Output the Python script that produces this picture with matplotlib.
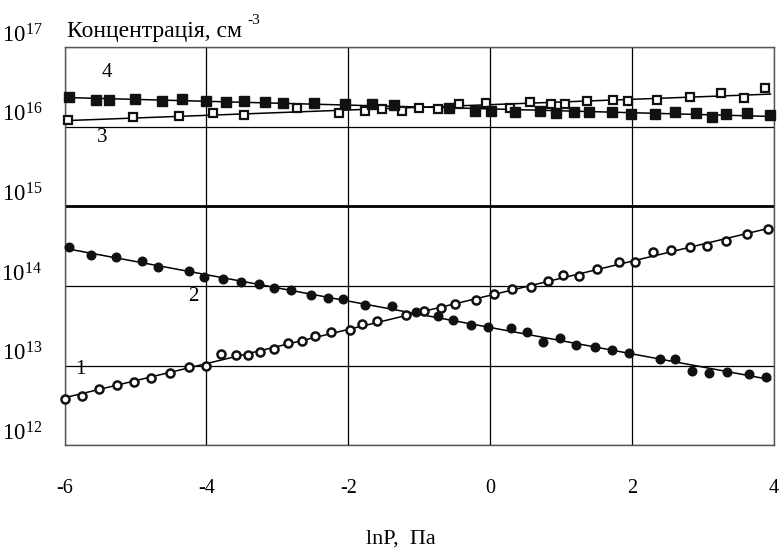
import numpy as np
import matplotlib
matplotlib.use("Agg")
import matplotlib.pyplot as plt

plt.rcParams['font.family'] = ['Liberation Serif', 'DejaVu Serif']
plt.rcParams['mathtext.fontset'] = 'custom'
plt.rcParams['mathtext.rm'] = 'Liberation Serif'
plt.rcParams['mathtext.it'] = 'Liberation Serif'

# curve 1 - open circles
x1 = [-6.00, -5.76, -5.52, -5.26, -5.02, -4.78, -4.52, -4.25, -4.01, -3.79, -3.58,
      -3.41, -3.24, -3.05, -2.85, -2.65, -2.47, -2.25, -1.98, -1.81, -1.59, -1.19,
      -0.94, -0.69, -0.50, -0.20, 0.05, 0.31, 0.57, 0.81, 1.02, 1.25, 1.51, 1.81,
      2.04, 2.30, 2.55, 2.82, 3.05, 3.33, 3.62, 3.92]
n1 = [3.83e12, 4.22e12, 5.07e12, 5.78e12, 6.25e12, 7.01e12, 8.18e12, 9.55e12, 1.00e13,
      1.39e13, 1.36e13, 1.36e13, 1.50e13, 1.62e13, 1.95e13, 2.02e13, 2.38e13, 2.62e13,
      2.83e13, 3.30e13, 3.64e13, 4.37e13, 4.86e13, 5.25e13, 5.89e13, 6.73e13, 7.94e13,
      9.08e13, 9.70e13, 1.17e14, 1.39e14, 1.33e14, 1.62e14, 1.98e14, 2.02e14, 2.67e14,
      2.85e14, 3.05e14, 3.18e14, 3.64e14, 4.53e14, 5.14e14]

# curve 2 - filled circles
x2 = [-5.93, -5.62, -5.28, -4.91, -4.68, -4.25, -4.03, -3.77, -3.51, -3.26, -3.05,
      -2.81, -2.53, -2.28, -2.08, -1.76, -1.39, -1.05, -0.74, -0.53, -0.27, -0.03,
      0.29, 0.52, 0.75, 0.99, 1.21, 1.47, 1.71, 1.95, 2.39, 2.61, 2.85, 3.09, 3.34,
      3.65, 3.88]
n2 = [3.05e14, 2.45e14, 2.29e14, 2.06e14, 1.73e14, 1.54e14, 1.30e14, 1.22e14, 1.11e14,
      1.07e14, 9.53e13, 8.99e13, 7.64e13, 7.01e13, 6.93e13, 5.83e13, 5.66e13, 4.68e13,
      4.25e13, 3.78e13, 3.27e13, 3.06e13, 3.00e13, 2.67e13, 1.99e13, 2.23e13, 1.84e13,
      1.72e13, 1.57e13, 1.46e13, 1.23e13, 1.23e13, 8.59e12, 8.18e12, 8.43e12, 7.82e12,
      7.16e12]

# curve 3 - open squares
x3 = [-5.95, -5.03, -4.39, -3.90, -3.47, -2.72, -2.13, -1.76, -1.52, -1.24, -1.01,
      -0.73, -0.44, -0.06, 0.28, 0.56, 0.85, 1.06, 1.37, 1.73, 1.94, 2.35, 2.82, 3.25,
      3.58, 3.87]
n3 = [1.23e16, 1.33e16, 1.36e16, 1.49e16, 1.42e16, 1.74e16, 1.47e16, 1.58e16, 1.66e16,
      1.56e16, 1.74e16, 1.69e16, 1.93e16, 1.97e16, 1.74e16, 2.03e16, 1.93e16, 1.93e16,
      2.11e16, 2.17e16, 2.11e16, 2.17e16, 2.39e16, 2.63e16, 2.30e16, 3.10e16]

# curve 4 - filled squares
x4 = [-5.94, -5.56, -5.37, -5.00, -4.62, -4.34, -4.01, -3.72, -3.47, -3.18, -2.92,
      -2.48, -2.04, -1.66, -1.35, -0.58, -0.21, 0.01, 0.35, 0.70, 0.93, 1.18, 1.39,
      1.71, 1.99, 2.32, 2.61, 2.90, 3.13, 3.33, 3.62, 3.95]
n4 = [2.37e16, 2.19e16, 2.15e16, 2.21e16, 2.09e16, 2.25e16, 2.09e16, 2.05e16, 2.11e16,
      2.05e16, 1.99e16, 1.99e16, 1.90e16, 1.95e16, 1.86e16, 1.72e16, 1.58e16, 1.58e16,
      1.51e16, 1.58e16, 1.49e16, 1.51e16, 1.52e16, 1.52e16, 1.44e16, 1.45e16, 1.51e16,
      1.49e16, 1.33e16, 1.44e16, 1.49e16, 1.41e16]

x_ticks = [-6, -4, -2, 0, 2, 4]
y_ticks = [1e12, 1e13, 1e14, 1e15, 1e16, 1e17]
y_tick_labels = ['$10^{12}$', '$10^{13}$', '$10^{14}$', '$10^{15}$', '$10^{16}$', '$10^{17}$']
curve_names = ['1', '2', '3', '4']
name_x = [-5.77, -4.18, -5.47, -5.40]
name_y = [8.9e12, 7.3e13, 7.4e15, 4.8e16]

fig = plt.figure(figsize=(7.79, 5.51), dpi=100)
ax = fig.add_axes([0.0828, 0.1915, 0.9108, 0.7232])
ax.set_yscale('log')
ax.set_xlim(-6, 4)
ax.set_ylim(1e12, 1e17)
ax.set_xticks(x_ticks)
ax.set_xticklabels([str(t) for t in x_ticks])
ax.set_yticks(y_ticks)
ax.set_yticklabels(y_tick_labels)
ax.minorticks_off()
ax.tick_params(axis='both', length=0)
ax.tick_params(axis='x', pad=24, labelsize=14.5)
ax.tick_params(axis='y', pad=16, labelsize=16.5)
for lab in ax.get_yticklabels():
    lab.set_va('bottom')

ax.grid(True, color='black', linewidth=0.9)
for sp in ax.spines.values():
    sp.set_color('#555555')
    sp.set_linewidth(1.0)
# thicker 10^15 line
ax.axhline(1e15, color='black', linewidth=2.0)

xx = np.linspace(-6, 3.95, 50)
for xs, ns in [(x1, n1), (x2, n2), (x3, n3), (x4, n4)]:
    k = np.polyfit(xs, np.log10(ns), 1)
    ax.plot(xx, 10 ** np.polyval(k, xx), color='black', linewidth=1.1, zorder=3)

ax.plot(x1, n1, 'o', markersize=5.8, markerfacecolor='white', markeredgecolor='#111111',
        markeredgewidth=1.8, zorder=4, clip_on=False)
ax.plot(x2, n2, 'o', markersize=6.2, color='#111111', zorder=4, clip_on=False)
ax.plot(x3, n3, 's', markersize=5.8, markerfacecolor='white', markeredgecolor='#111111',
        markeredgewidth=1.6, zorder=4, clip_on=False)
ax.plot(x4, n4, 's', markersize=6.5, color='#111111', zorder=4, clip_on=False)

for name, tx, ty in zip(curve_names, name_x, name_y):
    ax.text(tx, ty, name, fontsize=15, ha='center', va='center')

fig.text(0.086, 0.943, 'Концентрація, см', fontsize=17, ha='left', va='center')
fig.text(0.318, 0.962, '-3', fontsize=11, ha='left', va='center')
fig.text(0.515, 0.022, 'lnP,  Па', fontsize=16, ha='center', va='center')

fig.savefig('out.png', dpi=100)
